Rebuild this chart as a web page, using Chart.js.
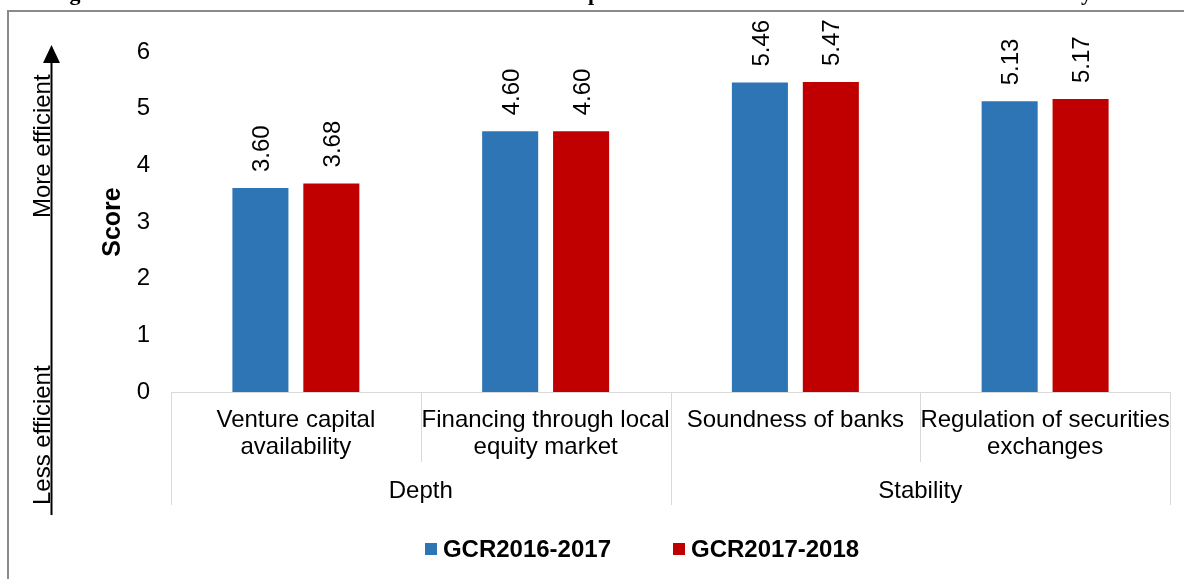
<!DOCTYPE html>
<html>
<head>
<meta charset="utf-8">
<title>Financial market efficiency</title>
<script src="https://cdn.jsdelivr.net/npm/chart.js@4"></script>
<style>
  html, body { margin: 0; padding: 0; background: #fff; overflow: hidden; }
  #wrap { position: relative; width: 1184px; height: 579px; }
</style>
</head>
<body>
<div id="wrap"><canvas id="gcrChart"></canvas></div>
<script>
// Categories (two-line labels) and the groups they belong to
const categories = [
    ['Venture capital', 'availability'],
    ['Financing through local', 'equity market'],
    ['Soundness of banks'],
    ['Regulation of securities', 'exchanges']
];
const groupLabels = ['Depth', 'Stability'];
const groupSizes = [2, 2];

// Scores per edition
const seriesNames = ['GCR2016-2017', 'GCR2017-2018'];
const gcr2016 = [3.60, 4.60, 5.46, 5.13];
const gcr2017 = [3.68, 4.60, 5.47, 5.17];
const seriesColors = ['#2e75b6', '#c00000'];

const yMin = 0;
const yMax = 6;
const yStep = 1;

const FONT = 'Arial, "Liberation Sans", sans-serif';
const lineGray = '#d9d9d9';

// Frame and the caption line above it
const framePlugin = {
    id: 'frame',
    beforeDraw(chart) {
        const ctx = chart.ctx;
        ctx.save();
        ctx.strokeStyle = '#8a8a8a';
        ctx.lineWidth = 2;
        ctx.strokeRect(8, 11, 1400, 800);
        ctx.fillStyle = '#000';
        ctx.font = 'bold 22px "Liberation Serif", "Times New Roman", serif';
        ctx.textBaseline = 'alphabetic';
        ctx.textAlign = 'left';
        ctx.fillText('Figure 1.17:', 50, 0);
        ctx.textAlign = 'right';
        ctx.fillText('Global Competitiveness Indicators of Financial Market Efficiency', 1092, 0);
        ctx.restore();
    }
};

// Rotated value labels above each bar
const valueLabels = {
    id: 'valueLabels',
    afterDatasetsDraw(chart) {
        const ctx = chart.ctx;
        ctx.save();
        ctx.fillStyle = '#000';
        ctx.font = '24px ' + FONT;
        ctx.textAlign = 'left';
        ctx.textBaseline = 'middle';
        chart.data.datasets.forEach((ds, i) => {
            chart.getDatasetMeta(i).data.forEach((bar, j) => {
                ctx.save();
                ctx.translate(bar.x + 2, bar.y - 16);
                ctx.rotate(-Math.PI / 2);
                ctx.fillText(ds.data[j].toFixed(2), 0, 0);
                ctx.restore();
            });
        });
        ctx.restore();
    }
};

// Category boxes, group labels, efficiency arrow and legend
const axisDecor = {
    id: 'axisDecor',
    afterDraw(chart) {
        const ctx = chart.ctx;
        const x = chart.scales.x;
        const area = chart.chartArea;
        const n = categories.length;
        const bottomInner = area.bottom + 70;
        const bottomOuter = area.bottom + 113;

        ctx.save();
        ctx.strokeStyle = lineGray;
        ctx.lineWidth = 1;

        // boundaries between categories; group edges run taller
        const edges = [area.left];
        for (let i = 0; i < n - 1; i++) {
            edges.push((x.getPixelForTick(i) + x.getPixelForTick(i + 1)) / 2);
        }
        edges.push(area.right);
        const groupEdges = [0];
        groupSizes.reduce((acc, s) => { groupEdges.push(acc + s); return acc + s; }, 0);
        edges.forEach((px, i) => {
            const full = groupEdges.includes(i);
            const xx = Math.round(px) + 0.5;
            ctx.beginPath();
            ctx.moveTo(xx, area.bottom);
            ctx.lineTo(xx, full ? bottomOuter : bottomInner);
            ctx.stroke();
        });

        // group labels centred under their categories
        ctx.fillStyle = '#000';
        ctx.font = '24px ' + FONT;
        ctx.textAlign = 'center';
        ctx.textBaseline = 'middle';
        let start = 0;
        groupLabels.forEach((g, i) => {
            const l = edges[start];
            const r = edges[start + groupSizes[i]];
            ctx.fillText(g, (l + r) / 2, area.bottom + 99);
            start += groupSizes[i];
        });

        // efficiency arrow on the far left
        ctx.strokeStyle = '#000';
        ctx.lineWidth = 2;
        ctx.beginPath();
        ctx.moveTo(51.5, 58);
        ctx.lineTo(51.5, 515);
        ctx.stroke();
        ctx.beginPath();
        ctx.moveTo(51.5, 45);
        ctx.lineTo(43, 63);
        ctx.lineTo(60, 63);
        ctx.closePath();
        ctx.fill();

        ctx.textAlign = 'left';
        ctx.textBaseline = 'alphabetic';
        [['More efficient', 218], ['Less efficient', 505]].forEach(([t, y]) => {
            ctx.save();
            ctx.translate(49.5, y);
            ctx.rotate(-Math.PI / 2);
            ctx.fillText(t, 0, 0);
            ctx.restore();
        });

        // legend
        ctx.font = 'bold 24px ' + FONT;
        ctx.textBaseline = 'middle';
        const box = 12, textGap = 6, itemGap = 62, legendY = 549, legendCx = 642;
        const widths = chart.data.datasets.map(ds => box + textGap + ctx.measureText(ds.label).width);
        const total = widths.reduce((a, b) => a + b, 0) + itemGap * (widths.length - 1);
        let lx = legendCx - total / 2;
        chart.data.datasets.forEach((ds, i) => {
            ctx.fillStyle = ds.backgroundColor;
            ctx.fillRect(Math.round(lx), legendY - box / 2, box, box);
            ctx.fillStyle = '#000';
            ctx.fillText(ds.label, lx + box + textGap, legendY + 1);
            lx += widths[i] + itemGap;
        });
        ctx.restore();
    }
};

const ctx = document.getElementById('gcrChart').getContext('2d');
const gcrChart = new Chart(ctx, {
    type: 'bar',
    data: {
        labels: categories,
        datasets: [
            { label: seriesNames[0], data: gcr2016, backgroundColor: seriesColors[0] },
            { label: seriesNames[1], data: gcr2017, backgroundColor: seriesColors[1] }
        ]
    },
    options: {
        responsive: true,
        maintainAspectRatio: false,
        animation: false,
        categoryPercentage: 0.568,
        barPercentage: 0.79,
        layout: { padding: { left: 98, right: 14, top: 52, bottom: 0 } },
        plugins: {
            legend: { display: false },
            tooltip: { enabled: false }
        },
        scales: {
            x: {
                grid: { display: false, drawTicks: false },
                border: { display: true, color: lineGray, width: 1 },
                ticks: {
                    color: '#000',
                    font: { family: FONT, size: 24, lineHeight: 1.13 },
                    padding: 15,
                    maxRotation: 0,
                    autoSkip: false
                },
                afterFit(scale) {
                    scale.height = 187;
                    // long labels stay inside their category boxes
                    scale.paddingLeft = 0;
                    scale.paddingRight = 0;
                }
            },
            y: {
                min: yMin,
                max: yMax,
                grid: { display: false, drawTicks: false },
                border: { display: false },
                ticks: {
                    stepSize: yStep,
                    color: '#000',
                    font: { family: FONT, size: 24 },
                    padding: 21
                },
                title: {
                    display: true,
                    text: 'Score',
                    color: '#000',
                    font: { family: FONT, size: 25, weight: 'bold' },
                    padding: 0
                },
                afterFit(scale) { scale.width = 73; }
            }
        }
    },
    plugins: [framePlugin, valueLabels, axisDecor]
});
</script>
</body>
</html>
